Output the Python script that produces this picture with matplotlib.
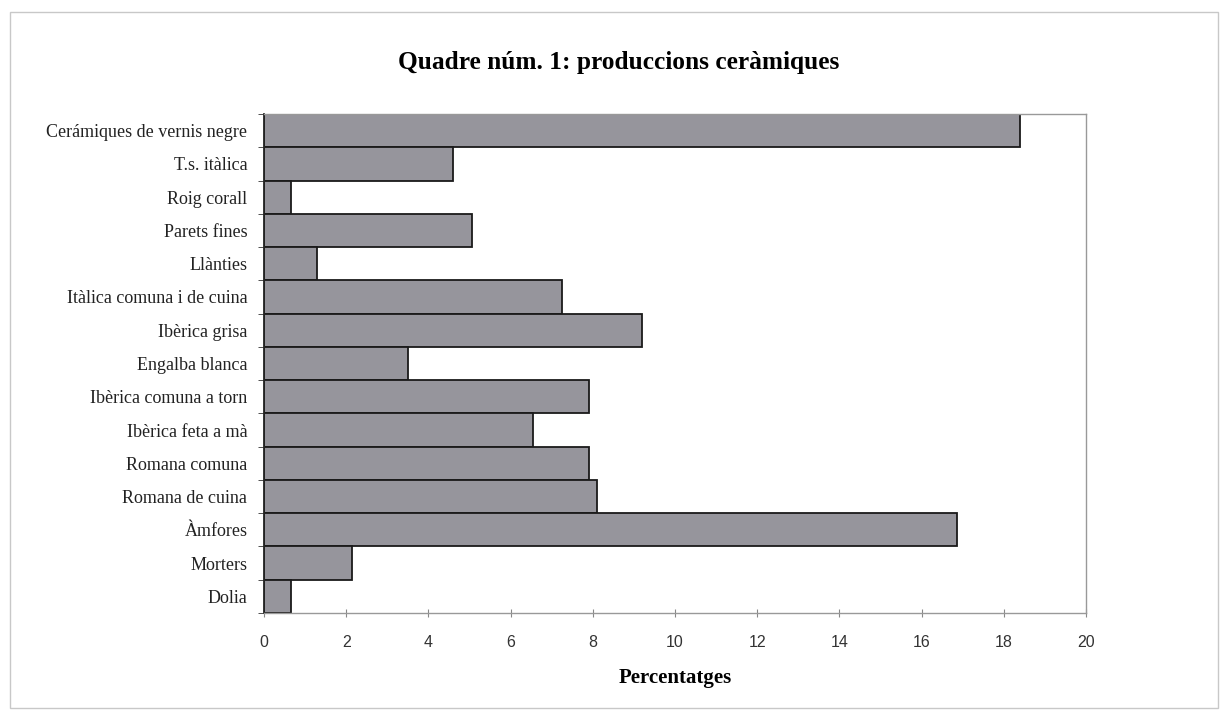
import matplotlib.pyplot as plt
import numpy as np
from matplotlib.patches import Rectangle

# Data (percentatges per producció ceràmica)
categories = ["Cerámiques de vernis negre", "T.s. itàlica", "Roig corall",
              "Parets fines", "Llànties", "Itàlica comuna i de cuina",
              "Ibèrica grisa", "Engalba blanca", "Ibèrica comuna a torn",
              "Ibèrica feta a mà", "Romana comuna", "Romana de cuina",
              "Àmfores", "Morters", "Dolia"]
values = [18.4, 4.6, 0.65, 5.05, 1.3, 7.25, 9.2, 3.5, 7.9, 6.55, 7.9, 8.1,
          16.85, 2.15, 0.65]
xticks = [0, 2, 4, 6, 8, 10, 12, 14, 16, 18, 20]

serif = ["Liberation Serif", "DejaVu Serif"]
sans = ["Liberation Sans", "DejaVu Sans"]

fig = plt.figure(figsize=(12.24, 7.2), dpi=100)
ax = fig.add_axes([0.2157, 0.1486, 0.6716, 0.6931])

y = np.arange(len(categories))
ax.barh(y, values, height=1.0, color="#96959c", edgecolor="#1a1a1a",
        linewidth=1.3, zorder=2)

ax.set_xlim(0, 20)
ax.set_ylim(len(categories) - 0.5, -0.5)

ax.set_yticks(y)
ax.set_yticklabels(categories, fontfamily=serif, fontsize=13, color="#222222")
ax.tick_params(axis="y", which="major", length=0, pad=12)
ax.set_yticks(np.arange(len(categories) + 1) - 0.5, minor=True)
ax.tick_params(axis="y", which="minor", length=4, direction="out", color="#333333")

ax.set_xticks(xticks)
ax.set_xticklabels([str(t) for t in xticks], fontfamily=sans, fontsize=11.5,
                   color="#333333")
ax.tick_params(axis="x", length=6, direction="inout", color="#888888", pad=13)

for side in ["top", "right", "bottom"]:
    ax.spines[side].set_color("#999999")
    ax.spines[side].set_linewidth(1.0)
ax.spines["left"].set_color("#222222")
ax.spines["left"].set_linewidth(1.3)

ax.set_xlabel("Percentatges", fontfamily=serif, fontweight="bold", fontsize=15,
              labelpad=13)
fig.text(0.5057, 0.9125, "Quadre núm. 1: produccions ceràmiques",
         fontfamily=serif, fontweight="bold", fontsize=18.3, ha="center", va="center")

# outer frame
fig.patches.append(Rectangle((10 / 1224, 12 / 720), 1208 / 1224, 696 / 720,
                             transform=fig.transFigure, fill=False,
                             edgecolor="#c8c8c8", linewidth=1.0))

fig.savefig("out.png", dpi=100)
